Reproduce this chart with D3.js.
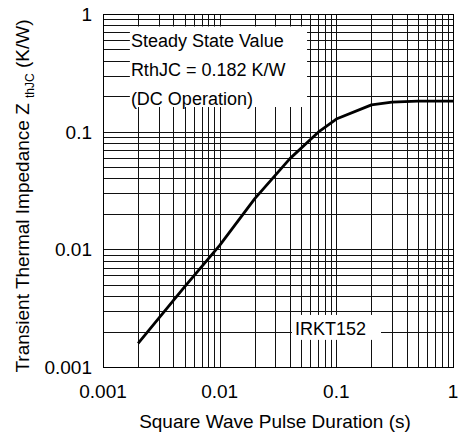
<!DOCTYPE html>
<html lang="en">
<head>
<meta charset="utf-8">
<title>Transient Thermal Impedance</title>
<script type="text/javascript" src="https://cdnjs.cloudflare.com/ajax/libs/d3/7.8.5/d3.min.js" charset="utf-8"></script>
<style>
	body { margin: 0; background: #fff; }
	text { font-family: Arial, "Liberation Sans", sans-serif; fill: #000; }
</style>
</head>
<body>
<script type="text/javascript">

// pulse duration (s) and Z thJC (K/W)
var duration = [0.002, 0.005, 0.01, 0.02, 0.04, 0.07, 0.1, 0.2, 0.3, 0.5, 1];
var impedance = [0.00159, 0.0048, 0.0108, 0.027, 0.059, 0.099, 0.128, 0.169, 0.178, 0.182, 0.182];

var xTickValues = [0.001, 0.01, 0.1, 1];
var xTickLabels = ["0.001", "0.01", "0.1", "1"];
var yTickValues = [0.001, 0.01, 0.1, 1];
var yTickLabels = ["0.001", "0.01", "0.1", "1"];

var noteLines = ["Steady State Value", "RthJC = 0.182 K/W", "(DC Operation)"];
var partName = "IRKT152";

var width = 459, height = 437;
var plotLeft = 103, plotRight = 453, plotTop = 14, plotBottom = 367;
var fontSize = "19px";
var noteSize = "18px";

var x = d3.scaleLog().domain([0.001, 1]).range([plotLeft, plotRight]);
var y = d3.scaleLog().domain([0.001, 1]).range([plotBottom, plotTop]);

function px(v){ return Math.round(v) + 0.5; }

var svg = d3.select("body")
	.append("svg")
	.attr("width", width)
	.attr("height", height);

// grid, every 1..9 of each decade
svg.append("g")
	.selectAll("line")
	.data(x.ticks())
	.enter()
	.append("line")
	.attr("x1", function(d){ return px(x(d)); })
	.attr("x2", function(d){ return px(x(d)); })
	.attr("y1", plotTop)
	.attr("y2", plotBottom)
	.style("stroke", "#111")
	.style("stroke-width", 1);

svg.append("g")
	.selectAll("line")
	.data(y.ticks())
	.enter()
	.append("line")
	.attr("y1", function(d){ return px(y(d)); })
	.attr("y2", function(d){ return px(y(d)); })
	.attr("x1", plotLeft)
	.attr("x2", plotRight)
	.style("stroke", "#111")
	.style("stroke-width", 1);

// white boxes behind the notes
svg.append("rect")
	.attr("x", x(0.0017))
	.attr("y", y(0.783))
	.attr("width", x(0.0561) - x(0.0017))
	.attr("height", y(0.162) - y(0.783))
	.style("fill", "#fff");

svg.append("rect")
	.attr("x", x(0.0417))
	.attr("y", y(0.00277))
	.attr("width", x(0.2415) - x(0.0417))
	.attr("height", y(0.0017) - y(0.00277))
	.style("fill", "#fff");

// frame
svg.append("rect")
	.attr("x", plotLeft + 0.5)
	.attr("y", plotTop + 0.5)
	.attr("width", plotRight - plotLeft)
	.attr("height", plotBottom - plotTop)
	.style("fill", "none")
	.style("stroke", "#000")
	.style("stroke-width", 1);

// curve
var line = d3.line()
	.x(function(d, i){ return x(duration[i]); })
	.y(function(d){ return y(d); });

svg.append("path")
	.attr("d", line(impedance))
	.style("fill", "none")
	.style("stroke", "#000")
	.style("stroke-width", 2.8)
	.style("stroke-linejoin", "round");

// notes
svg.append("g")
	.selectAll("text")
	.data(noteLines)
	.enter()
	.append("text")
	.attr("x", x(0.0017) + 1)
	.attr("y", function(d, i){ return 46.5 + i * 29; })
	.style("font-size", noteSize)
	.text(function(d){ return d; });

svg.append("text")
	.attr("x", x(0.0417) + 3)
	.attr("y", 335)
	.style("font-size", noteSize)
	.text(partName);

// tick labels
svg.append("g")
	.selectAll("text")
	.data(xTickValues)
	.enter()
	.append("text")
	.attr("x", function(d){ return x(d); })
	.attr("y", 398)
	.style("font-size", fontSize)
	.style("text-anchor", "middle")
	.text(function(d, i){ return xTickLabels[i]; });

svg.append("g")
	.selectAll("text")
	.data(yTickValues)
	.enter()
	.append("text")
	.attr("x", 92)
	.attr("y", function(d){ return y(d) + 7; })
	.style("font-size", fontSize)
	.style("text-anchor", "end")
	.text(function(d, i){ return yTickLabels[i]; });

// axis titles
svg.append("text")
	.attr("x", 275)
	.attr("y", 428)
	.style("font-size", fontSize)
	.style("text-anchor", "middle")
	.text("Square Wave Pulse Duration (s)");

var yTitle = svg.append("text")
	.attr("transform", "translate(29,196) rotate(-90)")
	.style("font-size", fontSize)
	.style("text-anchor", "middle");

yTitle.append("tspan").text("Transient  Thermal Impedance Z ");
yTitle.append("tspan")
	.attr("dy", 5)
	.style("font-size", "12px")
	.text("thJC");
yTitle.append("tspan")
	.attr("dy", -5)
	.text(" (K/W)");

</script>
</body>
</html>
